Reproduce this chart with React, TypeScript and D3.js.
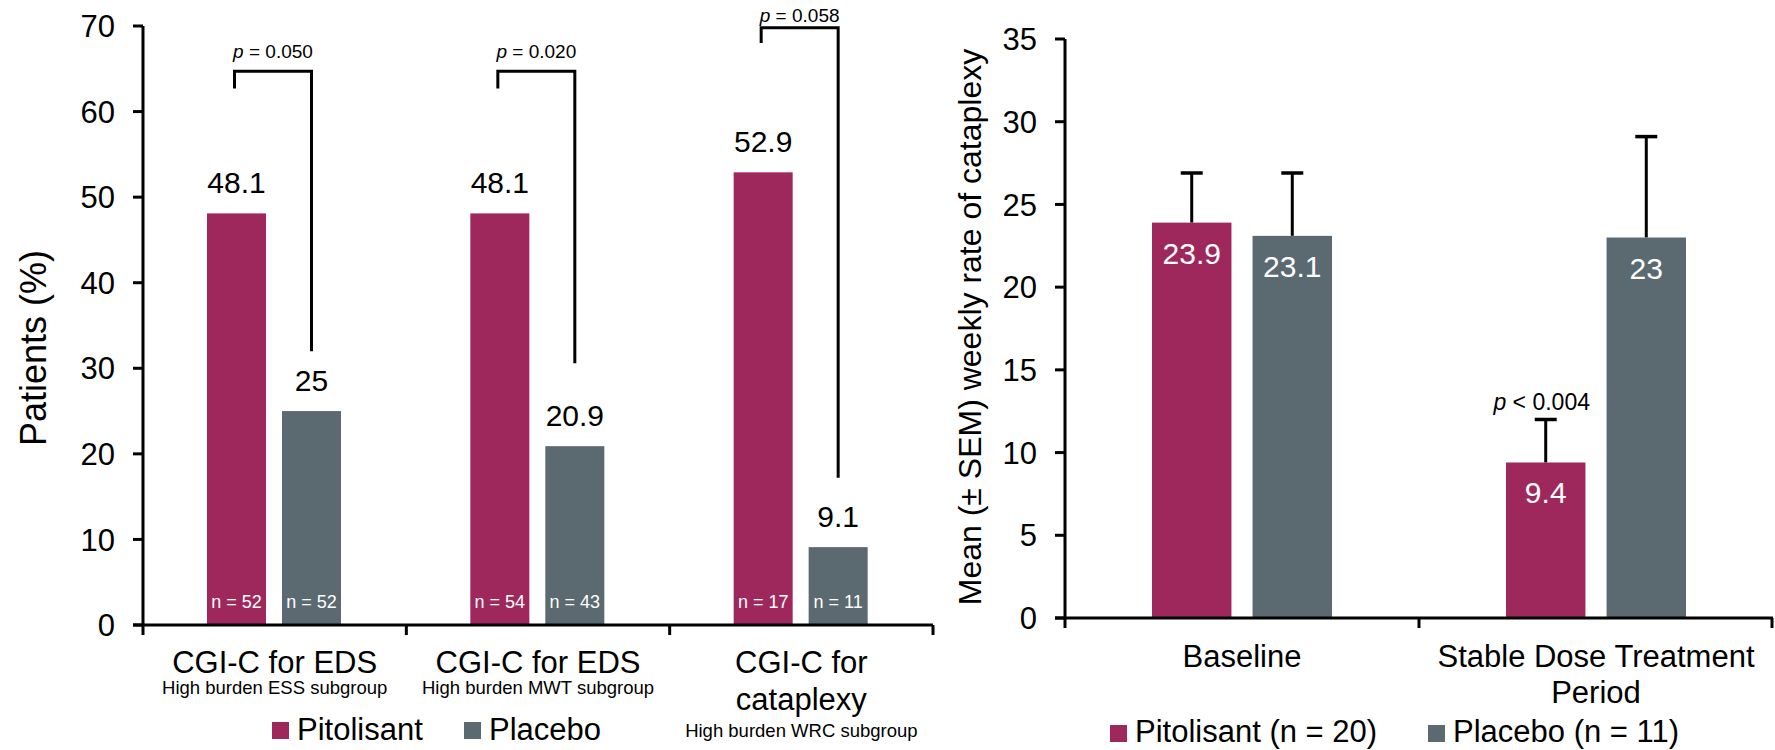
import React from 'react'
import * as d3 from 'd3'

// left panel: CGI-C responders
const leftTitles = [['CGI-C for EDS'], ['CGI-C for EDS'], ['CGI-C for', 'cataplexy']]
const leftSubtitles = ['High burden ESS subgroup', 'High burden MWT subgroup', 'High burden WRC subgroup']
const leftPitolisant = [48.1, 48.1, 52.9]
const leftPlacebo = [25, 20.9, 9.1]
const leftPitolisantN = [52, 54, 17]
const leftPlaceboN = [52, 43, 11]
const leftPValues = ['0.050', '0.020', '0.058']
const bracketTop = [64.7, 64.7, 69.8]
const bracketLeftEnd = [62.7, 62.7, 68]
const bracketRightEnd = [32, 30.6, 17.2]
const leftTicks = [0, 10, 20, 30, 40, 50, 60, 70]

// right panel: weekly rate of cataplexy
const rightTitles = [['Baseline'], ['Stable Dose Treatment', 'Period']]
const rightPitolisant = [23.9, 9.4]
const rightPlacebo = [23.1, 23]
const rightPitolisantSem = [3.0, 2.6]
const rightPlaceboSem = [3.8, 6.1]
const rightPLabels = [null, '< 0.004']
const rightTicks = [0, 5, 10, 15, 20, 25, 30, 35]

const series = ['Pitolisant', 'Placebo']
const colors = { Pitolisant: '#9E285C', Placebo: '#5B6970' }
const font = '"Liberation Sans", Arial, sans-serif'

function App() {
  const width = 1775
  const height = 750

  // scales, left
  const yL = d3.scaleLinear().domain([0, 70]).range([625, 26])
  const xL = d3.scaleBand().domain(d3.range(3).map(String)).range([143, 933])
  const xLi = d3.scaleBand().domain(series).range([64, 198]).paddingInner(0.213)

  // scales, right
  const yR = d3.scaleLinear().domain([0, 35]).range([618, 39])
  const xR = d3.scaleBand().domain(d3.range(2).map(String)).range([1065, 1773])
  const xRi = d3.scaleBand().domain(series).range([87, 267]).paddingInner(0.21)

  const leftBars = leftPitolisant.flatMap((v, i) => [
    { g: i, s: 'Pitolisant', v, n: leftPitolisantN[i] },
    { g: i, s: 'Placebo', v: leftPlacebo[i], n: leftPlaceboN[i] }
  ])
  const rightBars = rightPitolisant.flatMap((v, i) => [
    { g: i, s: 'Pitolisant', v, sem: rightPitolisantSem[i] },
    { g: i, s: 'Placebo', v: rightPlacebo[i], sem: rightPlaceboSem[i] }
  ])

  const lx = (g, s) => xL(String(g)) + xLi(s)
  const rx = (g, s) => xR(String(g)) + xRi(s)

  return (
    <svg width={width} height={height} style={{ position: 'absolute', left: 0, top: 0, fontFamily: font }}>
      <rect width={width} height={height} fill="#fff" />

      {/* ---------- left panel ---------- */}
      {leftBars.map((d, i) => (
        <g key={'lb' + i}>
          <rect x={lx(d.g, d.s)} y={yL(d.v)} width={xLi.bandwidth()} height={yL(0) - yL(d.v)} fill={colors[d.s]} />
          <text x={lx(d.g, d.s) + xLi.bandwidth() / 2} y={yL(d.v) - 20} textAnchor="middle" fontSize={30} fill="#000">
            {d.v}
          </text>
          <text x={lx(d.g, d.s) + xLi.bandwidth() / 2} y={608} textAnchor="middle" fontSize={18} fill="#fff">
            n = {d.n}
          </text>
        </g>
      ))}

      {leftPValues.map((p, i) => {
        const x1 = lx(i, 'Pitolisant') + xLi.bandwidth() / 2 - 2
        const x2 = lx(i, 'Placebo') + xLi.bandwidth() / 2
        const yTop = yL(bracketTop[i])
        const path = `M${x1},${yL(bracketLeftEnd[i])}V${yTop}H${x2}V${yL(bracketRightEnd[i])}`
        return (
          <g key={'p' + i}>
            <path d={path} fill="none" stroke="#000" strokeWidth={3} />
            <text x={(x1 + x2) / 2} y={Math.max(yTop - 13, 22)} textAnchor="middle" fontSize={19}>
              <tspan fontStyle="italic">p</tspan> = {p}
            </text>
          </g>
        )
      })}

      {/* left axes */}
      <line x1={143} x2={143} y1={yL(70)} y2={yL(0)} stroke="#000" strokeWidth={3} />
      <line x1={133} x2={933} y1={yL(0)} y2={yL(0)} stroke="#000" strokeWidth={3} />
      {leftTicks.map(t => (
        <g key={'lt' + t}>
          <line x1={133} x2={143} y1={yL(t)} y2={yL(t)} stroke="#000" strokeWidth={3} />
          <text x={115} y={yL(t)} dy="0.36em" textAnchor="end" fontSize={31}>{t}</text>
        </g>
      ))}
      {d3.range(4).map(i => {
        const x = 143 + i * xL.step()
        return <line key={'lx' + i} x1={x} x2={x} y1={yL(0)} y2={yL(0) + 10} stroke="#000" strokeWidth={3} />
      })}
      <text transform="translate(46,348) rotate(-90)" textAnchor="middle" fontSize={36}>Patients (%)</text>

      {leftTitles.map((lines, i) => {
        const cx = xL(String(i)) + xL.bandwidth() / 2
        const subY = 673 + (lines.length - 1) * 37 + (lines.length > 1 ? 27 : 21)
        return (
          <g key={'lc' + i} textAnchor="middle">
            {lines.map((l, j) => (
              <text key={j} x={cx} y={673 + j * 37} fontSize={31}>{l}</text>
            ))}
            <text x={cx} y={subY} fontSize={18.5}>{leftSubtitles[i]}</text>
          </g>
        )
      })}

      {/* left legend */}
      <rect x={272} y={722} width={17} height={17} fill={colors.Pitolisant} />
      <text x={297} y={740} fontSize={31}>Pitolisant</text>
      <rect x={464} y={722} width={17} height={17} fill={colors.Placebo} />
      <text x={489} y={740} fontSize={31}>Placebo</text>

      {/* ---------- right panel ---------- */}
      {rightBars.map((d, i) => {
        const cx = rx(d.g, d.s) + xRi.bandwidth() / 2
        const top = yR(d.v + d.sem)
        return (
          <g key={'rb' + i}>
            <line x1={cx} x2={cx} y1={yR(d.v)} y2={top} stroke="#000" strokeWidth={3} />
            <line x1={cx - 11} x2={cx + 11} y1={top} y2={top} stroke="#000" strokeWidth={3.5} />
            <rect x={rx(d.g, d.s)} y={yR(d.v)} width={xRi.bandwidth()} height={yR(0) - yR(d.v)} fill={colors[d.s]} />
            <text x={cx} y={yR(d.v) + 41} textAnchor="middle" fontSize={30} fill="#fff">{d.v}</text>
            {d.s === 'Pitolisant' && rightPLabels[d.g] && (
              <text x={cx - 4} y={top - 9} textAnchor="middle" fontSize={23}>
                <tspan fontStyle="italic">p</tspan> {rightPLabels[d.g]}
              </text>
            )}
          </g>
        )
      })}

      {/* right axes */}
      <line x1={1065} x2={1065} y1={yR(35)} y2={yR(0) + 10} stroke="#000" strokeWidth={3} />
      <line x1={1055} x2={1773} y1={yR(0)} y2={yR(0)} stroke="#000" strokeWidth={3} />
      {rightTicks.map(t => (
        <g key={'rt' + t}>
          <line x1={1055} x2={1065} y1={yR(t)} y2={yR(t)} stroke="#000" strokeWidth={3} />
          <text x={1037} y={yR(t)} dy="0.36em" textAnchor="end" fontSize={31}>{t}</text>
        </g>
      ))}
      {d3.range(1, 3).map(i => {
        const x = Math.min(1065 + i * xR.step(), 1772)
        return <line key={'rx' + i} x1={x} x2={x} y1={yR(0)} y2={yR(0) + 10} stroke="#000" strokeWidth={3} />
      })}
      <text transform="translate(981,327) rotate(-90)" textAnchor="middle" fontSize={32}>
        Mean (± SEM) weekly rate of cataplexy
      </text>

      {rightTitles.map((lines, i) => {
        const cx = xR(String(i)) + xR.bandwidth() / 2
        return (
          <g key={'rc' + i} textAnchor="middle">
            {lines.map((l, j) => (
              <text key={j} x={cx} y={667 + j * 36} fontSize={31}>{l}</text>
            ))}
          </g>
        )
      })}

      {/* right legend */}
      <rect x={1110} y={725} width={17} height={17} fill={colors.Pitolisant} />
      <text x={1135} y={742} fontSize={31}>Pitolisant (n = 20)</text>
      <rect x={1428} y={725} width={17} height={17} fill={colors.Placebo} />
      <text x={1453} y={742} fontSize={31}>Placebo (n = 11)</text>
    </svg>
  )
}

export default App
